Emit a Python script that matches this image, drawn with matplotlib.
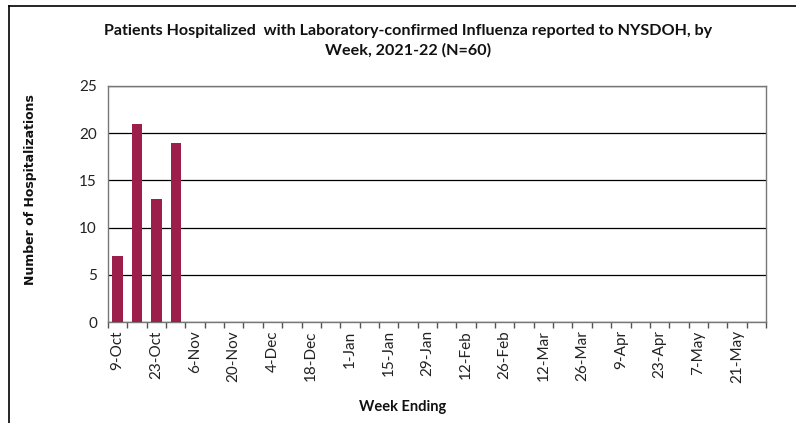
import matplotlib
matplotlib.use("Agg")
import matplotlib.pyplot as plt
from matplotlib.lines import Line2D

weeks = ["9-Oct", "16-Oct", "23-Oct", "30-Oct", "6-Nov", "13-Nov", "20-Nov", "27-Nov",
         "4-Dec", "11-Dec", "18-Dec", "25-Dec", "1-Jan", "8-Jan", "15-Jan", "22-Jan",
         "29-Jan", "5-Feb", "12-Feb", "19-Feb", "26-Feb", "5-Mar", "12-Mar", "19-Mar",
         "26-Mar", "2-Apr", "9-Apr", "16-Apr", "23-Apr", "30-Apr", "7-May", "14-May",
         "21-May", "28-May"]
hospitalizations = [7, 21, 13, 19] + [0] * 30
y_ticks = [0, 5, 10, 15, 20, 25]

title = "Patients Hospitalized  with Laboratory-confirmed Influenza reported to NYSDOH, by\nWeek, 2021-22 (N=60)"
x_label = "Week Ending"
y_label = "Number of Hospitalizations"

bar_color = "#9C1E4A"
font = ["Lato", "DejaVu Sans"]

fig = plt.figure(figsize=(7.96, 4.23), dpi=100)
ax = fig.add_axes([108 / 796, 1 - 322 / 423, (766 - 108) / 796, (322 - 86) / 423])

x = list(range(len(weeks)))
ax.bar(x, hospitalizations, width=0.54, color=bar_color, zorder=3)

ax.set_xlim(-0.5, len(weeks) - 0.5)
ax.set_ylim(0, 25)
ax.set_yticks(y_ticks)
ax.set_yticklabels([str(v) for v in y_ticks], fontfamily=font, fontsize=11, color="#222222")
ax.tick_params(axis="y", length=0, pad=8)
ax.yaxis.grid(True, color="black", linewidth=0.9, zorder=1)

# category boundaries as ticks, labels at centres for every other week
ax.set_xticks([i - 0.5 for i in range(len(weeks) + 1)], minor=False)
ax.set_xticklabels([])
ax.tick_params(axis="x", which="major", length=4, color="#555555", width=1)
ax.set_xticks(x[::2], minor=True)
ax.set_xticklabels(weeks[::2], minor=True, rotation=90, fontfamily=font, fontsize=11, color="#222222")
ax.tick_params(axis="x", which="minor", length=0, pad=6)

for s in ["left", "right", "top", "bottom"]:
    ax.spines[s].set_color("#777777")
    ax.spines[s].set_linewidth(1)

fig.text(408 / 796, 1 - 41 / 423, title, ha="center", va="center", fontfamily=font,
         fontweight="bold", fontsize=11.6, linespacing=1.45, color="#111111")
fig.text(403 / 796, 1 - 407 / 423, x_label, ha="center", va="center", fontfamily=font,
         fontweight="bold", fontsize=10.5, color="#111111")
fig.text(31 / 796, 1 - 190 / 423, y_label, ha="center", va="center", rotation=90,
         fontfamily=["DejaVu Sans"], fontweight="bold", fontsize=9, color="#111111")

# outer frame (left and top edges visible)
fig.add_artist(Line2D([9 / 796, 9 / 796], [0, 1 - 6 / 423], transform=fig.transFigure, color="black", linewidth=1.2))
fig.add_artist(Line2D([9 / 796, 1], [1 - 6 / 423, 1 - 6 / 423], transform=fig.transFigure, color="black", linewidth=1.2))

fig.savefig("out.png", dpi=100)
